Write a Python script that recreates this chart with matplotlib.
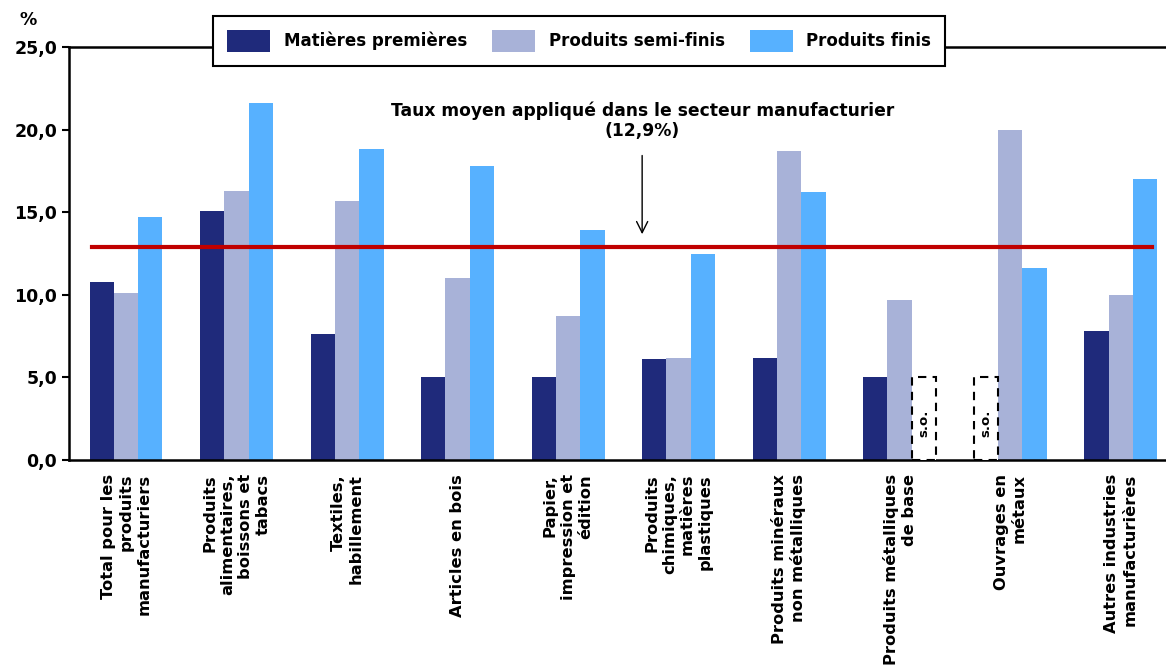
import numpy as np
import matplotlib
matplotlib.use("Agg")
import matplotlib.pyplot as plt
from matplotlib.patches import Rectangle

categories = [
    "Total pour les\nproduits\nmanufacturiers",
    "Produits\nalimentaires,\nboissons et\ntabacs",
    "Textiles,\nhabillement",
    "Articles en bois",
    "Papier,\nimpression et\nédition",
    "Produits\nchimiques,\nmatières\nplastiques",
    "Produits minéraux\nnon métalliques",
    "Produits métalliques\nde base",
    "Ouvrages en\nmétaux",
    "Autres industries\nmanufacturières",
]
series_names = ["Matières premières", "Produits semi-finis", "Produits finis"]
matieres = [10.8, 15.1, 7.6, 5.0, 5.0, 6.1, 6.2, 5.0, np.nan, 7.8]
semi_finis = [10.1, 16.3, 15.7, 11.0, 8.7, 6.2, 18.7, 9.7, 20.0, 10.0]
finis = [14.7, 21.6, 18.8, 17.8, 13.9, 12.5, 16.2, np.nan, 11.6, 17.0]
taux_moyen = 12.9
yticks = [0, 5, 10, 15, 20, 25]
so_height = 5.0  # placeholder box for "s.o." (sans objet)

colors = ["#1F2A7B", "#A8B2D8", "#57B1FF"]

fig = plt.figure(figsize=(11.66, 6.68), dpi=100)
ax = fig.add_axes([69 / 1166, 208 / 668, 1 - 69 / 1166, (460 - 47) / 668])

x = np.arange(len(categories))
w = 0.22
series = [matieres, semi_finis, finis]
handles = []
for i, (vals, col) in enumerate(zip(series, colors)):
    pos = x + (i - 1) * w
    h = ax.bar(pos, np.nan_to_num(vals), width=w, color=col, label=series_names[i], zorder=2)
    handles.append(h)
    for p, v in zip(pos, vals):
        if np.isnan(v):
            ax.add_patch(Rectangle((p - w / 2, 0), w, so_height, facecolor="white",
                                   edgecolor="black", linestyle=(0, (4, 3)), lw=1.5, zorder=3))
            ax.text(p, 2.2, "s.o.", rotation=90, ha="center", va="center",
                    fontsize=9.5, fontweight="bold", zorder=4)

# average line
ax.plot([x[0] - 1.4 * w, x[-1] + 1.3 * w], [taux_moyen, taux_moyen], color="#C00000", lw=3, zorder=5)
ax.annotate("", xy=(4.67, 13.5), xytext=(4.67, 18.6),
            arrowprops=dict(arrowstyle="->", color="black", lw=1, mutation_scale=20))
ax.text(4.67, 20.55, "Taux moyen appliqué dans le secteur manufacturier\n(12,9%)",
        ha="center", va="center", fontsize=12.3, fontweight="bold", linespacing=1.15)

ax.set_xlim(-0.516, 9.41)
ax.set_ylim(0, 25)
ax.set_yticks(yticks)
ax.set_yticklabels([f"{t:.1f}".replace(".", ",") for t in yticks], fontsize=12.5, fontweight="bold")
ax.set_xticks(x)
ax.set_xticklabels(categories, rotation=90, fontsize=11.7, fontweight="bold",
                   ha="center", va="top", multialignment="right", linespacing=1.25)
ax.tick_params(axis="x", length=0, pad=10)
ax.tick_params(axis="y", length=5, width=1.5, direction="out")
ax.spines["right"].set_visible(False)
for s in ["left", "bottom", "top"]:
    ax.spines[s].set_linewidth(1.8)

fig.text(28 / 1166, 1 - 20 / 668, "%", fontsize=12.5, fontweight="bold", ha="center", va="center")

leg = fig.legend(handles=handles, loc="center", ncol=3,
                 bbox_to_anchor=(579 / 1166, 1 - 41 / 668), frameon=True, fancybox=False,
                 framealpha=1, edgecolor="black", prop=dict(size=12, weight="bold"),
                 handlelength=2.6, handleheight=1.6, columnspacing=1.5, borderpad=0.85,
                 handletextpad=0.8)
leg.get_frame().set_linewidth(1.5)

fig.savefig("out.png", dpi=100)
